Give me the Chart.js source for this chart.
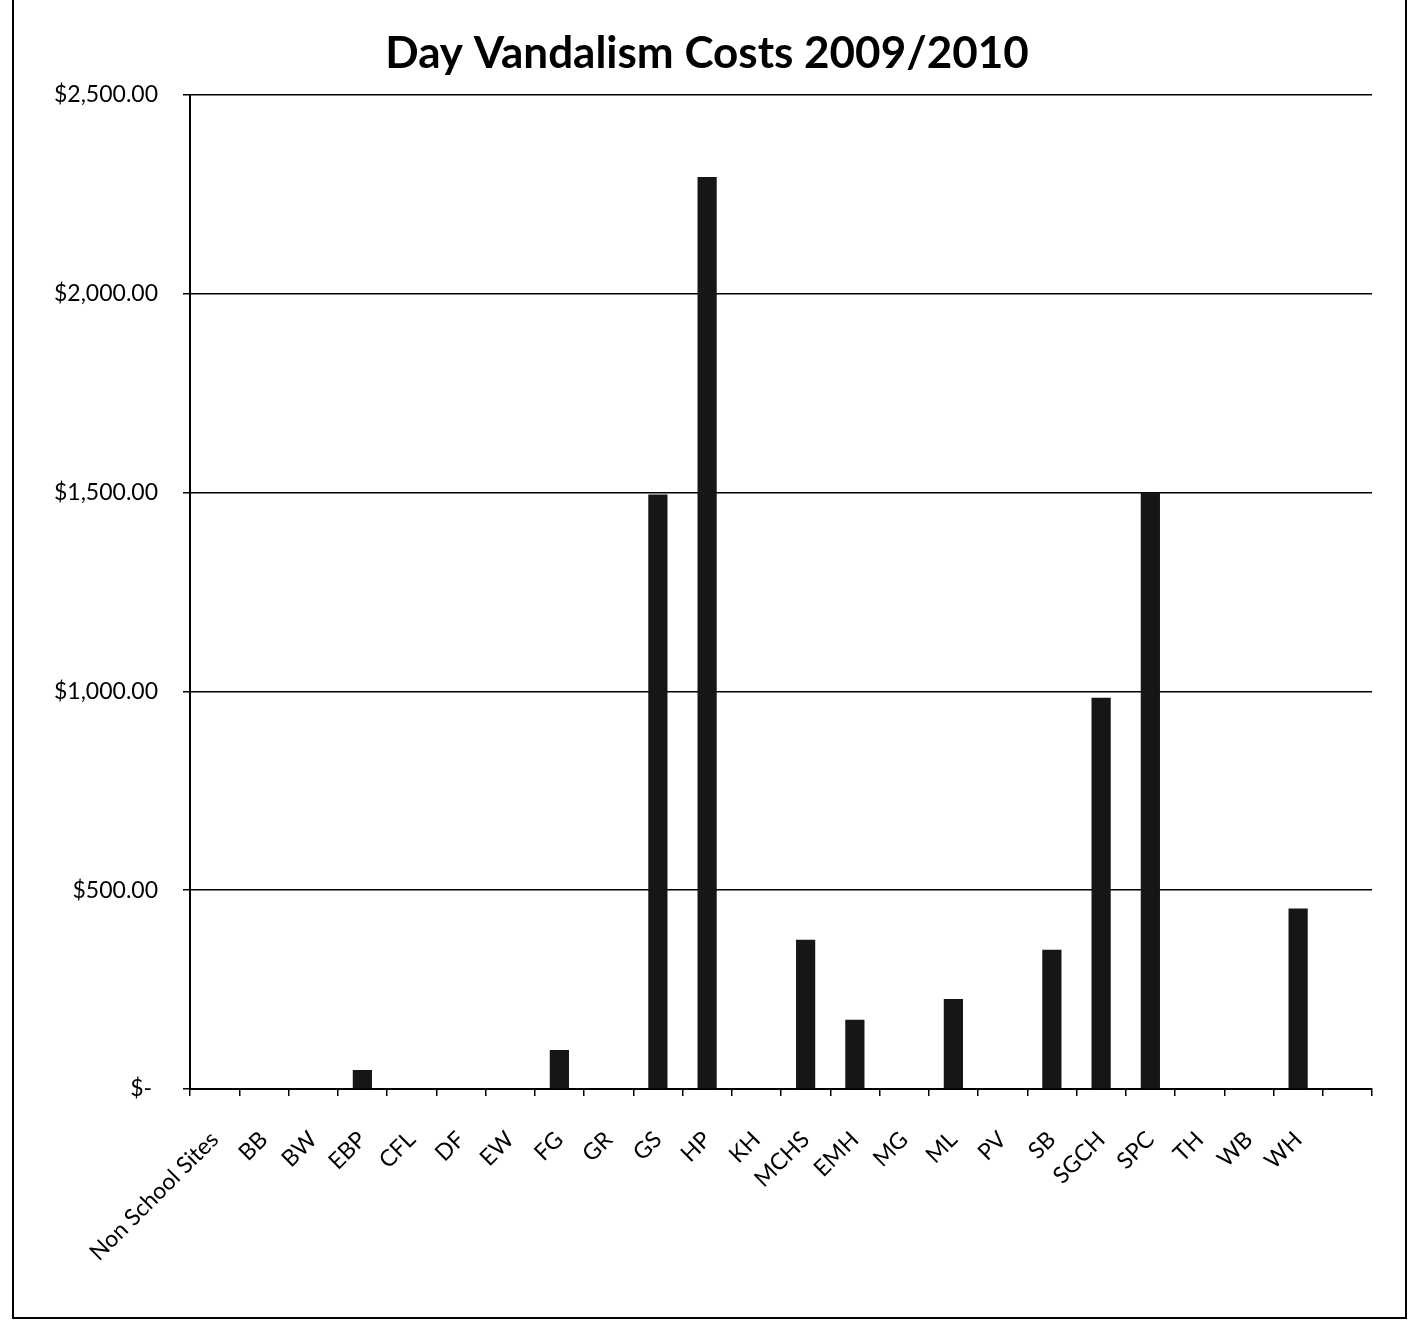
<!DOCTYPE html>
<html>
<head>
<meta charset="utf-8">
<script src="https://cdn.jsdelivr.net/npm/chart.js@4.4.1/dist/chart.umd.min.js"></script>
<style>
    html, body { margin: 0; padding: 0; background: #fff; }
    #wrap { width: 1414px; height: 1321px; }
</style>
</head>
<body>
<div id="wrap"><canvas id="vandalismChart" width="1414" height="1321"></canvas></div>
<script>
// sites, in the order the sheet lists them (last slot is an empty row)
var sites = ['Non School Sites', 'BB', 'BW', 'EBP', 'CFL', 'DF', 'EW', 'FG', 'GR', 'GS', 'HP', 'KH',
    'MCHS', 'EMH', 'MG', 'ML', 'PV', 'SB', 'SGCH', 'SPC', 'TH', 'WB', 'WH', ''];

// day vandalism cost per site, dollars
var dayCosts = [0, 0, 0, 48, 0, 0, 0, 98, 0, 1495, 2293, 0,
    375, 174, 0, 226, 0, 350, 984, 1500, 0, 0, 454, null];

var yTicks = [0, 500, 1000, 1500, 2000, 2500];

function money(value) {
    if (value === 0) return '$- ';
    return '$' + value.toLocaleString('en-US', { minimumFractionDigits: 2, maximumFractionDigits: 2 });
}

// frame round the whole picture, like the scanned page
var pageFrame = {
    id: 'pageFrame',
    beforeDraw: function(chart) {
        var ctx = chart.ctx;
        ctx.save();
        ctx.fillStyle = '#fff';
        ctx.fillRect(0, 0, chart.width, chart.height);
        ctx.restore();
    },
    afterDraw: function(chart) {
        var ctx = chart.ctx;
        ctx.save();
        ctx.strokeStyle = '#000';
        ctx.lineWidth = 2;
        ctx.beginPath();
        ctx.moveTo(13, 0);
        ctx.lineTo(13, 1318);
        ctx.lineTo(1406, 1318);
        ctx.lineTo(1406, 0);
        ctx.stroke();
        ctx.restore();
    }
};

var canvas = document.getElementById('vandalismChart');

var chart = new Chart(canvas, {
    type: 'bar',
    data: {
        labels: sites,
        datasets: [{
            label: 'Day Vandalism Costs',
            data: dayCosts,
            backgroundColor: '#161616',
            borderWidth: 0,
            categoryPercentage: 1,
            barPercentage: 0.39
        }]
    },
    options: {
        responsive: false,
        animation: false,
        layout: {
            padding: 0
        },
        scales: {
            x: {
                grid: {
                    offset: true,
                    drawOnChartArea: false,
                    drawTicks: true,
                    tickLength: 7,
                    color: '#000',
                    lineWidth: 1.5
                },
                border: { display: true, color: '#000', width: 2 },
                ticks: {
                    color: '#000',
                    font: { family: 'Lato', size: 23 },
                    minRotation: 45,
                    maxRotation: 45,
                    autoSkip: false,
                    padding: 30
                },
                afterFit: function(scale) {
                    scale.height = 1321 - 1089;
                }
            },
            y: {
                min: 0,
                max: 2500,
                afterBuildTicks: function(scale) {
                    scale.ticks = yTicks.map(v => ({ value: v }));
                },
                grid: {
                    color: '#000',
                    lineWidth: 1.5,
                    tickLength: 7
                },
                border: { display: true, color: '#000', width: 2 },
                ticks: {
                    color: '#000',
                    font: { family: 'Lato', size: 23 },
                    padding: 25,
                    callback: function(value) {
                        return money(value);
                    }
                },
                afterFit: function(scale) {
                    scale.width = 190;
                }
            },
            // empty right-hand strip so the title stays centred on the page
            spacer: {
                position: 'right',
                min: 0,
                max: 2500,
                grid: { display: false },
                border: { display: false },
                ticks: { display: false },
                afterFit: function(scale) {
                    scale.width = 42;
                }
            }
        },
        plugins: {
            legend: { display: false },
            tooltip: { enabled: false },
            title: {
                display: true,
                text: 'Day Vandalism Costs 2009/2010',
                color: '#000',
                font: { family: 'Lato', size: 44, weight: 'bold' },
                padding: { top: 27, bottom: 15 }
            }
        }
    },
    plugins: [pageFrame]
});
</script>
</body>
</html>
